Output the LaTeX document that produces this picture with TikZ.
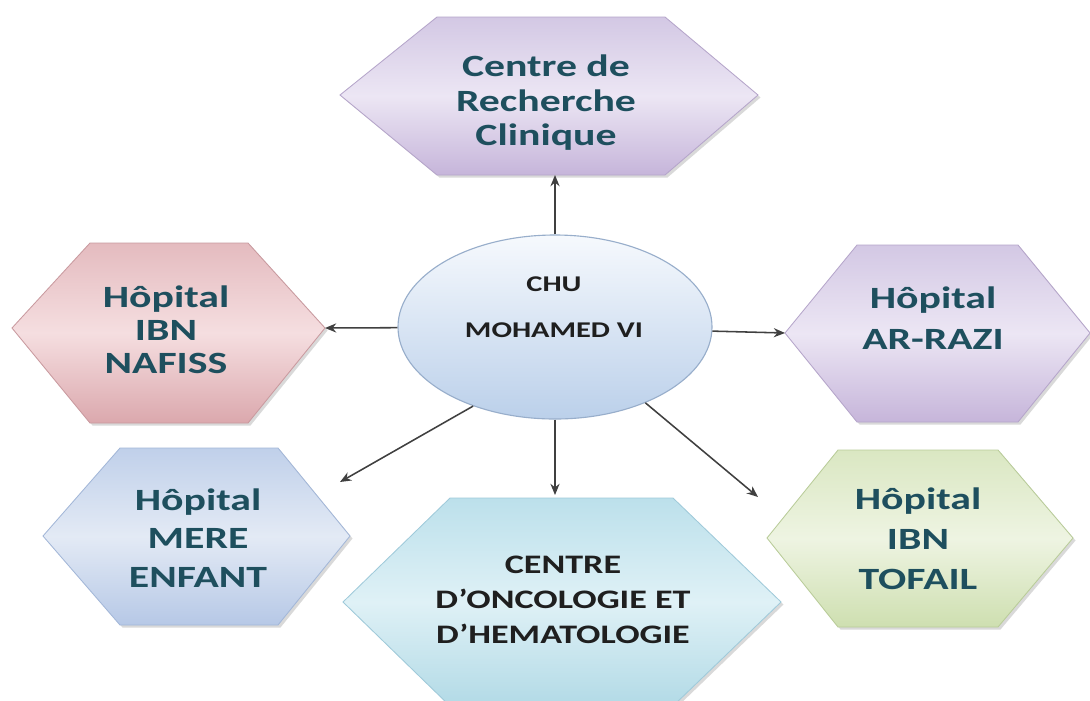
\documentclass[tikz,border=0pt]{standalone}
\usepackage{fontspec}
\newfontfamily\lbl{Carlito}[FakeStretch=1.35]
\usetikzlibrary{arrows.meta,shapes.geometric}
\definecolor{txt}{HTML}{1E4F5E}
\definecolor{arrc}{HTML}{404040}
\definecolor{lavT}{HTML}{D3C8E4}\definecolor{lavM}{HTML}{ECE6F4}\definecolor{lavB}{HTML}{C6B5DA}\definecolor{lavD}{HTML}{B5A5CA}
\definecolor{pinT}{HTML}{E4BBBF}\definecolor{pinM}{HTML}{F5DEE0}\definecolor{pinB}{HTML}{DBA8AD}\definecolor{pinD}{HTML}{C99A9F}
\definecolor{bluT}{HTML}{C0D0EA}\definecolor{bluM}{HTML}{E3EAF5}\definecolor{bluB}{HTML}{B6C8E6}\definecolor{bluD}{HTML}{A3B7D8}
\definecolor{grnT}{HTML}{DAE7C2}\definecolor{grnM}{HTML}{EEF4E2}\definecolor{grnB}{HTML}{CEDFB0}\definecolor{grnD}{HTML}{B9CC99}
\definecolor{cyaT}{HTML}{BCE0EB}\definecolor{cyaM}{HTML}{DFF1F6}\definecolor{cyaB}{HTML}{B2DAE6}\definecolor{cyaD}{HTML}{9FCADA}
\definecolor{ellT}{HTML}{F6F9FD}\definecolor{ellB}{HTML}{BBD0EA}\definecolor{ellD}{HTML}{98AECB}
% hexagon: #1 style, #2 x-left, #3 x-top-left, #4 x-top-right, #5 x-right, #6 y-top, #7 y-mid, #8 y-bottom
\newcommand\hexa[8]{%
  \begin{scope}[shift={(2.5,2.5)}]
    \fill[black,opacity=0.15] (#2,#7) -- (#3,#6) -- (#4,#6) -- (#5,#7) -- (#4,#8) -- (#3,#8) -- cycle;
  \end{scope}
  \path[#1] (#2,#7) -- (#3,#6) -- (#4,#6) -- (#5,#7) -- (#4,#8) -- (#3,#8) -- cycle;
}
\tikzset{
  hexlav/.style={draw=lavD, line width=0.6pt, top color=lavT, bottom color=lavB, middle color=lavM},
  hexpin/.style={draw=pinD, line width=0.6pt, top color=pinT, bottom color=pinB, middle color=pinM},
  hexblu/.style={draw=bluD, line width=0.6pt, top color=bluT, bottom color=bluB, middle color=bluM},
  hexgrn/.style={draw=grnD, line width=0.6pt, top color=grnT, bottom color=grnB, middle color=grnM},
  hexcya/.style={draw=cyaD, line width=0.6pt, top color=cyaT, bottom color=cyaB, middle color=cyaM},
  ellbox/.style={ellipse, draw=ellD, line width=0.8pt, top color=ellT, bottom color=ellB,
     minimum width=314*0.025cm, minimum height=184*0.025cm, inner sep=0pt},
  hexlabel/.style={align=center, inner sep=0pt, text=txt},
  darklabel/.style={align=center, inner sep=0pt, text=black!88},
  arr/.style={draw=arrc, line width=1.1pt, -{Stealth[length=8pt,width=6.5pt]}},
}
\begin{document}
\begin{tikzpicture}[x=0.025cm, y=-0.025cm]
\fill[white] (0,0) rectangle (1090,700);
\useasboundingbox (0,0) rectangle (1090,700);

% hexagons
\hexa{hexlav}{340}{437}{665}{758}{17}{95}{175}
\hexa{hexpin}{12}{90}{248}{325}{243}{328}{423}
\hexa{hexlav}{785}{857}{1018}{1090}{245}{333}{422}
\hexa{hexblu}{43}{120}{278}{350}{448}{536}{625}
\hexa{hexgrn}{767}{838}{998}{1073}{450}{538}{627}
\hexa{hexcya}{343}{450}{673}{781}{498}{602}{706}

% connector end points
\coordinate (crc-b) at (555,175);
\coordinate (naf-r) at (325,328);
\coordinate (raz-l) at (785,333);
\coordinate (mer-t) at (340,482);
\coordinate (tof-t) at (758,497);
\coordinate (onc-t) at (555,495);

% centre
\node[ellbox] (chu) at (555,327) {};
\node[darklabel, font=\lbl\bfseries\fontsize{16}{32.6}\selectfont] (chut) at (554,307) {CHU\\MOHAMED VI};

% labels
\node[hexlabel, font=\lbl\bfseries\fontsize{22}{24.5}\selectfont] (crc) at (546,103) {Centre de\\Recherche\\Clinique};
\node[hexlabel, font=\lbl\bfseries\fontsize{22}{23.5}\selectfont] (naf) at (166,330) {Hôpital\\IBN\\NAFISS};
\node[hexlabel, font=\lbl\bfseries\fontsize{22}{29}\selectfont] (raz) at (933,318) {Hôpital\\AR-RAZI};
\node[hexlabel, font=\lbl\bfseries\fontsize{22}{27.6}\selectfont] (mer) at (198,538) {Hôpital\\MERE\\ENFANT};
\node[hexlabel, font=\lbl\bfseries\fontsize{22}{28.4}\selectfont] (tof) at (918,539) {Hôpital\\IBN\\TOFAIL};
\node[darklabel, font=\lbl\bfseries\fontsize{19}{25}\selectfont] (onc) at (563,600) {CENTRE\\D’ONCOLOGIE ET\\D’HEMATOLOGIE};

% connectors
\draw[arr] (chu.north) -- (crc-b);
\draw[arr] (chu) -- (naf-r);
\draw[arr] (chu) -- (raz-l);
\draw[arr] (chu.224) -- (mer-t);
\draw[arr] (chu.-40) -- (tof-t);
\draw[arr] (chu.south) -- (onc-t);
\end{tikzpicture}
\end{document}
